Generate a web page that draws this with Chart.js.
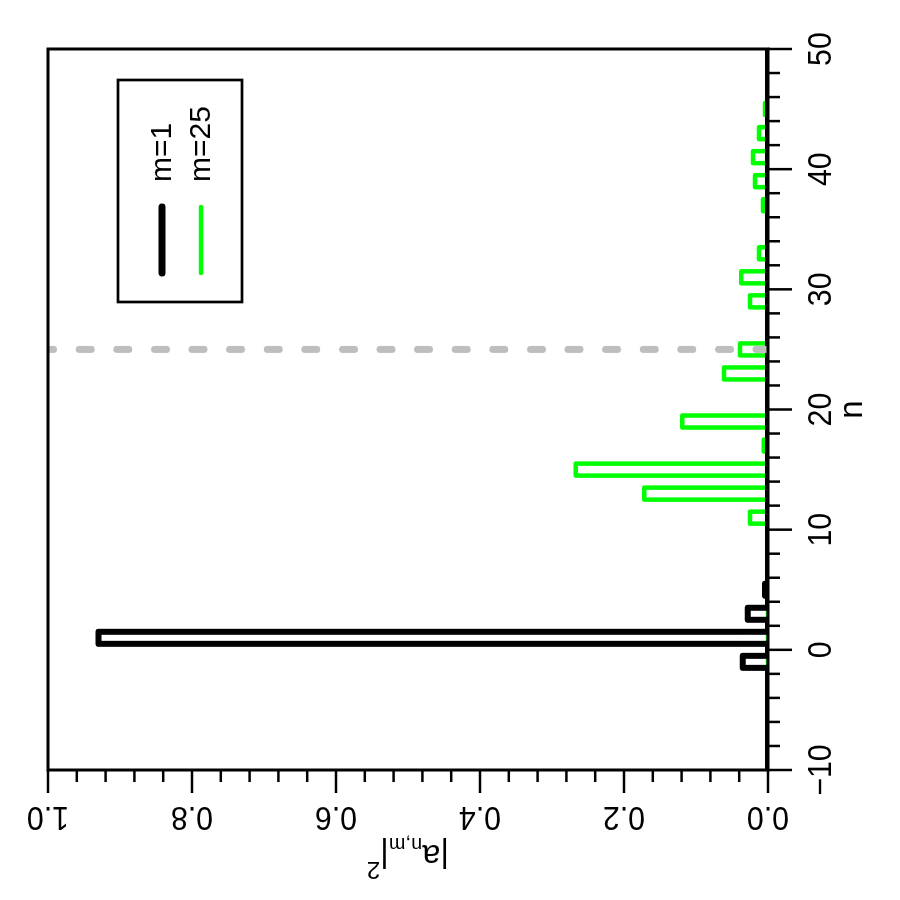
<!DOCTYPE html>
<html>
<head>
<meta charset="utf-8">
<script src="https://cdn.jsdelivr.net/npm/chart.js@4.4.1/dist/chart.umd.min.js"></script>
<style>
  html, body { margin: 0; padding: 0; background: #fff; }
  #wrap { width: 900px; height: 900px; position: relative; overflow: hidden; }
  #c { position: absolute; left: 0; top: 0; transform: rotate(-90deg); transform-origin: 450px 450px; }
</style>
</head>
<body>
<div id="wrap"><canvas id="c" width="900" height="900"></canvas></div>
<script>
// ---- data ----
const nMin = -10, nMax = 50;
const m1N    = [-1, 1, 3, 5];
const m1Vals = [0.035, 0.93, 0.028, 0.004];
const m25N    = [11, 13, 15, 17, 19, 23, 25, 29, 31, 33, 37, 39, 41, 43, 45];
const m25Vals = [0.025, 0.172, 0.267, 0.006, 0.119, 0.061, 0.039, 0.025, 0.037, 0.0125, 0.007, 0.018, 0.021, 0.0125, 0.004];
const markerN = 25;
const seriesNames = ['m=1', 'm=25'];
const nTickLabels = [-10, 0, 10, 20, 30, 40, 50];
const yTickValues = [0, 0.2, 0.4, 0.6, 0.8, 1.0];
const yTickLabels = ['0.0', '0.2', '0.4', '0.6', '0.8', '1.0'];

function stepData(ns, vals) {
  const out = [];
  for (let n = nMin; n <= nMax; n++) {
    const i = ns.indexOf(n);
    out.push({ x: n, y: i >= 0 ? vals[i] : 0 });
  }
  return out;
}

const FONT = '"Liberation Sans", Arial, Helvetica, sans-serif';

const rAxes = {
  id: 'rAxes',
  afterDatasetsDraw(chart) {
    const { ctx, chartArea: a, scales: { x, y } } = chart;
    ctx.save();
    ctx.strokeStyle = '#000';
    ctx.fillStyle = '#000';
    // box
    ctx.lineWidth = 3;
    ctx.lineJoin = 'miter';
    ctx.strokeRect(a.left, a.top, a.right - a.left, a.bottom - a.top);
    // n axis ticks (bottom in original orientation)
    ctx.lineWidth = 2.5;
    for (let n = nMin; n <= nMax; n += 2) {
      const px = x.getPixelForValue(n);
      const major = nTickLabels.includes(n);
      ctx.beginPath();
      ctx.moveTo(px, a.bottom);
      ctx.lineTo(px, a.bottom + (major ? 24 : 12));
      ctx.stroke();
    }
    ctx.font = '33px ' + FONT;
    ctx.textAlign = 'center';
    ctx.textBaseline = 'alphabetic';
    nTickLabels.forEach(n => {
      const px = x.getPixelForValue(n);
      const lbl = n < 0 ? '\u2212' + Math.abs(n) : String(n);
      ctx.save();
      ctx.translate(px, 831);
      ctx.scale(0.92, 1);
      ctx.fillText(lbl, 0, 0);
      ctx.restore();
    });
    // y axis ticks (left)
    for (let k = 0; k <= 25; k++) {
      const v = k * 0.04;
      const py = y.getPixelForValue(v);
      const major = (k % 5 === 0);
      ctx.beginPath();
      ctx.moveTo(a.left, py);
      ctx.lineTo(a.left - (major ? 23 : 12), py);
      ctx.stroke();
    }
    yTickValues.forEach((v, i) => {
      const py = y.getPixelForValue(v);
      ctx.save();
      ctx.translate(93, py);
      ctx.rotate(-Math.PI / 2);
      ctx.scale(0.92, 1);
      ctx.fillText(yTickLabels[i], 0, 0);
      ctx.restore();
    });
    // axis titles
    ctx.font = '33px ' + FONT;
    ctx.fillText('n', (a.left + a.right) / 2, 862);
    // y title |a_{n,m}|^2
    const big = '33px ' + FONT, sub = '20px ' + FONT, sup = '24px ' + FONT;
    const parts = [
      { t: '|a', f: big, dy: 0 },
      { t: 'n,m', f: sub, dy: 7 },
      { t: '|', f: big, dy: 0 },
      { t: '2', f: sup, dy: -17 }
    ];
    let total = 0;
    parts.forEach(p => { ctx.font = p.f; p.w = ctx.measureText(p.t).width; total += p.w; });
    ctx.save();
    ctx.translate(55, (a.top + a.bottom) / 2);
    ctx.rotate(-Math.PI / 2);
    ctx.textAlign = 'left';
    let cx = -total / 2;
    parts.forEach(p => { ctx.font = p.f; ctx.fillText(p.t, cx, p.dy); cx += p.w; });
    ctx.restore();
    ctx.restore();
  },
  afterDraw(chart) {
    const { ctx } = chart;
    ctx.save();
    // legend box
    ctx.strokeStyle = '#000';
    ctx.lineWidth = 2.7;
    ctx.strokeRect(598, 118, 222, 124);
    const items = [
      { color: '#000000', w: 7, y: 162 },
      { color: '#00FF00', w: 4.5, y: 201 }
    ];
    ctx.lineCap = 'round';
    ctx.font = '30px ' + FONT;
    ctx.textAlign = 'left';
    ctx.textBaseline = 'alphabetic';
    ctx.fillStyle = '#000';
    items.forEach((it, i) => {
      ctx.strokeStyle = it.color;
      ctx.lineWidth = it.w;
      ctx.beginPath();
      ctx.moveTo(627, it.y);
      ctx.lineTo(693, it.y);
      ctx.stroke();
      ctx.fillText(seriesNames[i], 718, it.y + 9);
    });
    ctx.restore();
  }
};

new Chart(document.getElementById('c'), {
  type: 'line',
  data: {
    datasets: [
      {
        label: 'marker',
        data: [{ x: markerN, y: 0 }, { x: markerN, y: 1 }],
        borderColor: '#BEBEBE',
        borderWidth: 7,
        borderDash: [12, 25.6],
        borderCapStyle: 'round',
        pointRadius: 0,
        order: 0
      },
      {
        label: seriesNames[1],
        data: stepData(m25N, m25Vals),
        borderColor: '#00FF00',
        borderWidth: 4.5,
        stepped: 'middle',
        borderJoinStyle: 'round',
        borderCapStyle: 'round',
        pointRadius: 0,
        order: 2
      },
      {
        label: seriesNames[0],
        data: stepData(m1N, m1Vals),
        borderColor: '#000000',
        borderWidth: 6,
        stepped: 'middle',
        borderJoinStyle: 'round',
        borderCapStyle: 'round',
        pointRadius: 0,
        order: 1
      }
    ]
  },
  options: {
    responsive: false,
    animation: false,
    layout: { padding: { left: 130, right: 49, top: 48, bottom: 132 } },
    plugins: { legend: { display: false }, tooltip: { enabled: false } },
    scales: {
      x: { type: 'linear', min: nMin, max: nMax, display: false },
      y: { type: 'linear', min: 0, max: 1, display: false }
    }
  },
  plugins: [rAxes]
});
</script>
</body>
</html>
